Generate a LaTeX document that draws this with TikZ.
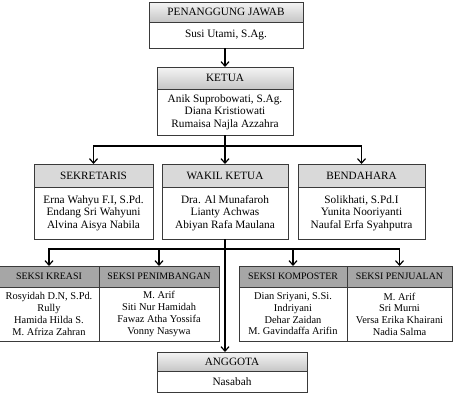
\documentclass[tikz,border=0pt]{standalone}
\usepackage{fontspec}
\setmainfont{Liberation Serif}
\usetikzlibrary{positioning,arrows.meta}
\definecolor{boxline}{HTML}{3A3A3A}
\definecolor{headgray}{HTML}{D9D9D9}
\definecolor{seksigray}{HTML}{A6A6A6}

\begin{document}
\begin{tikzpicture}[x=1pt, y=-1pt,
    box/.style={rectangle, draw=boxline, line width=0.8pt, inner sep=0pt, outer sep=0pt, align=center},
    head/.style={box, fill=headgray, font=\fontsize{11.2}{13}\selectfont},
    gradhead/.style={box, top color=gray!8, bottom color=gray!45, font=\fontsize{11.2}{13}\selectfont},
    seksihead/.style={box, fill=seksigray, font=\fontsize{9.9}{11}\selectfont},
    body/.style={box, fill=white, font=\fontsize{11.3}{12.6}\selectfont},
    seksibody/.style={box, fill=white, font=\fontsize{10.4}{11.7}\selectfont},
    arr/.style={-{Straight Barb[length=4.5pt,width=8pt]}, line width=1.2pt}
]
    \useasboundingbox (0,0) rectangle (455,402);

    % Top: penanggung jawab and ketua
    \node[gradhead, minimum width=154pt, minimum height=20pt] (pjhead) at (226,12) {PENANGGUNG JAWAB};
    \node[body, minimum width=154pt, minimum height=26pt, below=0pt of pjhead] (pj) {Susi Utami, S.Ag.};

    \node[gradhead, minimum width=136pt, minimum height=22pt] (ketuahead) at (225,78) {KETUA};
    \node[body, minimum width=136pt, minimum height=46pt, below=0pt of ketuahead] (ketua) {Anik Suprobowati, S.Ag.\\Diana Kristiowati\\Rumaisa Najla Azzahra};

    \draw[arr] (ketuahead.north |- pj.south) -- (ketuahead.north);

    % Second row
    \node[head, minimum width=119pt, minimum height=23pt] (sekhead) at (93.5,175.5) {SEKRETARIS};
    \node[body, minimum width=119pt, minimum height=52pt, below=0pt of sekhead] (sek) {Erna Wahyu F.I, S.Pd.\\Endang Sri Wahyuni\\Alvina Aisya Nabila};

    \node[head, minimum width=126pt, minimum height=23pt] (wakilhead) at (225,175.5) {WAKIL KETUA};
    \node[body, minimum width=126pt, minimum height=52pt, below=0pt of wakilhead] (wakil) {Dra. Al Munafaroh\\Lianty Achwas\\Abiyan Rafa Maulana};

    \node[head, minimum width=127pt, minimum height=23pt] (benhead) at (361.5,175.5) {BENDAHARA};
    \node[body, minimum width=127pt, minimum height=52pt, below=0pt of benhead] (ben) {Solikhati, S.Pd.I\\Yunita Nooriyanti\\Naufal Erfa Syahputra};

    \coordinate (split1) at (225,146);
    \draw[line width=1.2pt] (ketua.south) -- (split1);
    \draw[arr] (split1) -| (sekhead.north);
    \draw[arr] (split1) -- (wakilhead.north);
    \draw[arr] (split1) -| (benhead.north);

    % Third row: seksi
    \node[seksihead, minimum width=100pt, minimum height=21pt] (kreasihead) at (49,276.5) {SEKSI KREASI};
    \node[seksibody, minimum width=100pt, minimum height=54pt, below=0pt of kreasihead] (kreasi) {Rosyidah D.N, S.Pd.\\Rully\\Hamida Hilda S.\\M. Afriza Zahran};

    \node[seksihead, minimum width=120pt, minimum height=21pt, right=0pt of kreasihead] (timbanghead) {SEKSI PENIMBANGAN};
    \node[seksibody, minimum width=120pt, minimum height=54pt, below=0pt of timbanghead] (timbang) {M. Arif\\Siti Nur Hamidah\\Fawaz Atha Yossifa\\Vonny Nasywa};

    \node[seksihead, minimum width=108pt, minimum height=21pt] (komposhead) at (293,276.5) {SEKSI KOMPOSTER};
    \node[seksibody, minimum width=108pt, minimum height=54pt, below=0pt of komposhead] (kompos) {Dian Sriyani, S.Si.\\Indriyani\\Dehar Zaidan\\M. Gavindaffa Arifin};

    \node[seksihead, minimum width=105pt, minimum height=21pt, right=0pt of komposhead] (jualhead) {SEKSI PENJUALAN};
    \node[seksibody, minimum width=105pt, minimum height=54pt, below=0pt of jualhead] (jual) {M. Arif\\Sri Murni\\Versa Erika Khairani\\Nadia Salma};

    \coordinate (split2) at (225,249);
    \draw[arr] (split2) -| (kreasihead.north);
    \draw[arr] (split2) -| (timbanghead.north);
    \draw[arr] (split2) -| (komposhead.north);
    \draw[arr] (split2) -| (jualhead.north);

    % Bottom: anggota
    \node[gradhead, minimum width=150pt, minimum height=19pt] (angghead) at (232,361.5) {ANGGOTA};
    \node[body, minimum width=150pt, minimum height=21pt, below=0pt of angghead] (angg) {Nasabah};

    \draw[arr] (wakil.south) -- (wakil.south |- angghead.north);
\end{tikzpicture}
\end{document}
